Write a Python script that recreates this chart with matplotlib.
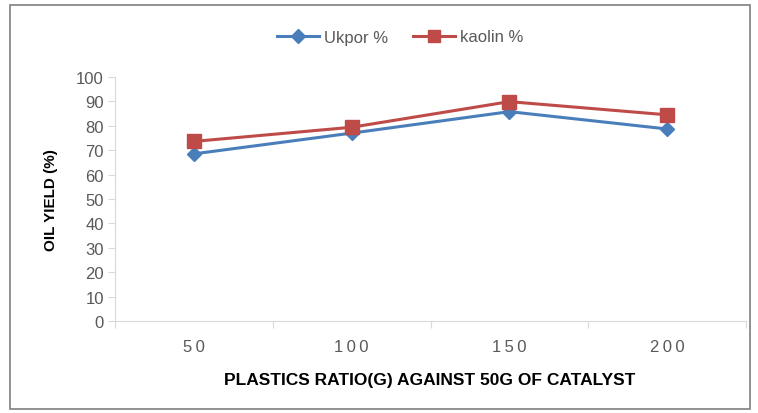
import matplotlib.pyplot as plt
from matplotlib.patches import Rectangle
from matplotlib.lines import Line2D

# Oil yield for each plastics ratio
ratios = ['50', '100', '150', '200']
ukpor = [68.5, 77.0, 85.8, 78.7]
kaolin = [73.6, 79.4, 89.9, 84.5]

BLUE = '#4a7ebb'
RED = '#be4b48'
GRID = '#d9d9d9'
TXT = '#595959'

plt.rcParams['font.family'] = ['Liberation Sans', 'DejaVu Sans']

fig = plt.figure(figsize=(7.58, 4.14), dpi=100)
ax = fig.add_axes([115 / 758, 1 - 322 / 414, 631 / 758, 244 / 414])

x = range(len(ratios))
ax.plot(x, ukpor, color=BLUE, lw=2.2, marker='D', ms=7.5, label='Ukpor %', zorder=3)
ax.plot(x, kaolin, color=RED, lw=2.2, marker='s', ms=10, label='kaolin %', zorder=3)

ax.set_ylim(0, 100)
ax.set_xlim(-0.5, len(ratios) - 0.5)
ax.set_yticks(range(0, 101, 10))
ax.tick_params(axis='y', labelsize=12, colors=TXT, length=5, width=0.8, pad=3)
ax.tick_params(axis='y', color=GRID)

# category ticks sit between the points, labels on the points
ax.set_xticks([i - 0.5 for i in range(len(ratios) + 1)])
ax.set_xticklabels([])
ax.set_xticks(list(x), minor=True)
ax.set_xticklabels(['\u2009'.join(r) for r in ratios], minor=True)
ax.tick_params(axis='x', which='major', length=5, width=0.8, color=GRID)
ax.tick_params(axis='x', which='minor', length=0, labelsize=12, colors=TXT, pad=13)

for side in ['top', 'right']:
    ax.spines[side].set_visible(False)
for side in ['left', 'bottom']:
    ax.spines[side].set_color(GRID)
    ax.spines[side].set_linewidth(0.8)

ax.set_ylabel('OIL YIELD (%)', fontsize=11, fontweight='bold', color='black', labelpad=13)
fig.text(430 / 758, 1 - 381 / 414, 'PLASTICS RATIO(G) AGAINST 50G OF CATALYST',
         ha='center', va='center', fontsize=12.5, fontweight='bold')

handles = [Line2D([], [], color=BLUE, lw=2.2, marker='D', ms=7),
           Line2D([], [], color=RED, lw=2.2, marker='s', ms=9)]
fig.legend(handles, ['Ukpor %', 'kaolin %'], loc='center', bbox_to_anchor=(400 / 758, 1 - 38 / 414),
           ncol=2, frameon=False, fontsize=12, handlelength=2.5, columnspacing=1.5,
           handletextpad=0.3, labelcolor=TXT)

fig.patches.append(Rectangle((10 / 758, 4 / 414), 740 / 758, 404 / 414, transform=fig.transFigure,
                             fill=False, edgecolor='#7f7f7f', lw=1.2))

fig.savefig('out.png', dpi=100)
